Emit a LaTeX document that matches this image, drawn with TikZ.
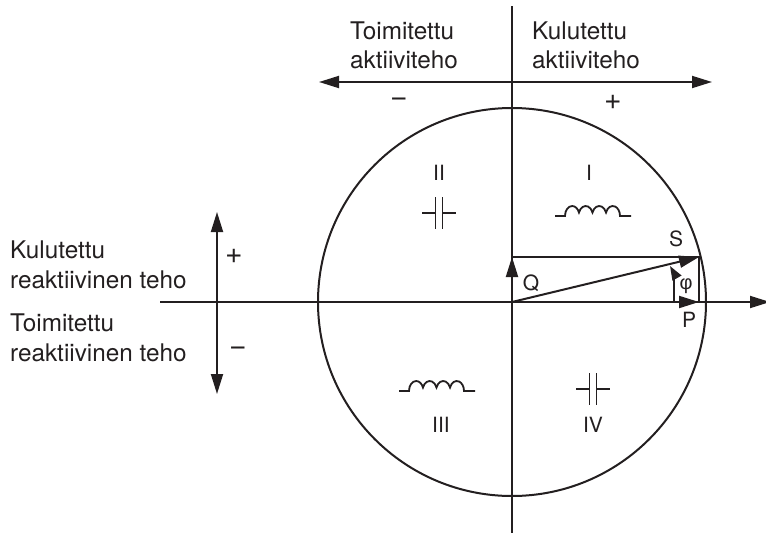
\documentclass[tikz,border=0pt]{standalone}
\usepackage{fontspec}
\setmainfont{TeX Gyre Heros}
\newfontfamily\phifont{Liberation Sans}
\usetikzlibrary{arrows.meta}
\definecolor{ink}{HTML}{231F20}
\tikzset{
  ink line/.style={draw=ink,line width=2pt},
  thin line/.style={draw=ink,line width=1.8pt},
  big tip/.style={-{Triangle[length=20pt,width=12pt]}},
  both tips/.style={{Triangle[length=20pt,width=12pt]}-{Triangle[length=20pt,width=12pt]}},
  big label/.style={inner sep=0pt,align=left,anchor=west,text=ink,font=\fontsize{24.3}{29.5}\selectfont},
  mark label/.style={inner sep=0pt,text=ink,font=\fontsize{21}{24}\selectfont},
  sign label/.style={inner sep=0pt,text=ink,font=\fontsize{30}{32}\selectfont},
}
\newcommand{\capsym}[2]{%
  \draw[thin line] (#1-17,#2) -- (#1-3.5,#2) (#1-3.5,#2-16) -- (#1-3.5,#2+16)
    (#1+3.5,#2-16) -- (#1+3.5,#2+16) (#1+3.5,#2) -- (#1+17,#2);}
\newcommand{\indsym}[2]{%
  \draw[thin line] (#1-38,#2) -- (#1-28,#2)
    arc[start angle=180,end angle=340,x radius=7.2,y radius=10]
    arc[start angle=200,end angle=340,x radius=7.2,y radius=10]
    arc[start angle=200,end angle=340,x radius=7.2,y radius=10]
    arc[start angle=200,end angle=360,x radius=7.2,y radius=10]
    -- (#1+38,#2);}
\begin{document}
\begin{tikzpicture}[x=1pt,y=-1pt]
\useasboundingbox (0,0) rectangle (766,533);
\coordinate (O) at (512,302);
\coordinate (Top) at (512,6);
\coordinate (Bottom) at (512,533);
\coordinate (AxisL) at (160,302);
\coordinate (AxisR) at (770,302);
\coordinate (PE) at (699,302);
\coordinate (SE) at (699,257);
\coordinate (QE) at (512,257);
\coordinate (ArrL) at (319,82);
\coordinate (ArrR) at (712,82);
\coordinate (VT) at (217,212);
\coordinate (VB) at (217,394);
\coordinate (PhiA) at (674,302);
\coordinate (PhiB) at (670,266);
\node[draw=ink,line width=2pt,circle,minimum size=388pt,inner sep=0pt] (C) at (O) {};
\draw[thin line] (Top) -- (Bottom);
\draw[thin line,big tip] (AxisL) -- (AxisR);
\draw[ink line] (QE) -- (SE) -- (PE);
\draw[ink line,big tip] (O) -- (QE);
\draw[ink line,big tip] (O) -- (PE);
\draw[ink line,big tip] (O) -- (SE);
\draw[thin line,both tips] (ArrL) -- (ArrR);
\draw[thin line,both tips] (VT) -- (VB);
\draw[thin line,-{Triangle[length=14pt,width=10pt]}] (PhiA) -- (674,285) to[out=90,in=-60] (PhiB);
\capsym{439}{213}
\capsym{593}{389}
\indsym{593}{216}
\indsym{437}{391}
\node[big label] (t1) at (350,45.5) {Toimitettu\\aktiiviteho};
\node[big label] (t2) at (532,45.5) {Kulutettu\\aktiiviteho};
\node[big label] (t3) at (10,265) {Kulutettu\\reaktiivinen teho};
\node[big label] (t4) at (10,338) {Toimitettu\\reaktiivinen teho};
\node[sign label] (m1) at (399,102) {−};
\node[sign label] (p1) at (613,102) {+};
\node[sign label] (p2) at (234,256) {+};
\node[sign label] (m2) at (238,351) {−};
\node[mark label] (q1) at (589,173) {I};
\node[mark label] (q2) at (439,173) {II};
\node[mark label] (q3) at (441,425) {III};
\node[mark label] (q4) at (593,425) {IV};
\node[mark label] (Q) at (531,283) {Q};
\node[mark label] (S) at (676,239) {S};
\node[mark label] (P) at (689,320) {P};
\node[mark label,font=\phifont\fontsize{20}{22}\selectfont] (phi) at (686,286) {φ};
\end{tikzpicture}
\end{document}
